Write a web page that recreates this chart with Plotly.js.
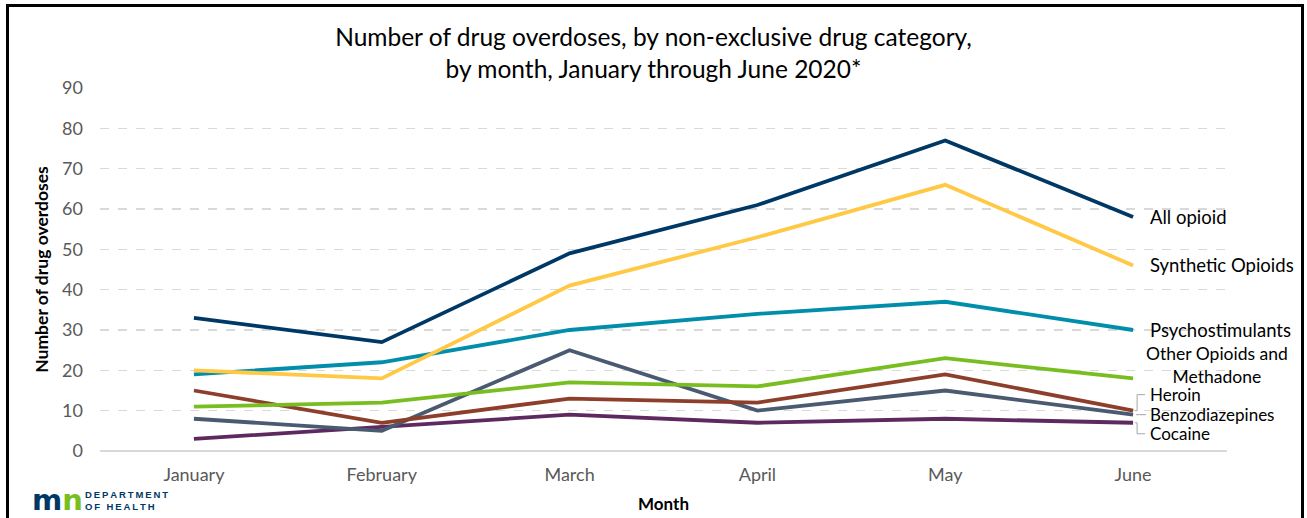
<!DOCTYPE html>
<html>
<head>
<meta charset="utf-8">
<script src="https://cdn.plot.ly/plotly-3.0.1.min.js"></script>
<style>
  html, body { margin: 0; padding: 0; background: #fff; }
  #wrap { position: relative; width: 1307px; height: 518px; overflow: hidden; }
  #chart { width: 1307px; height: 518px; }
  #frame { position: absolute; left: 6px; top: 4px; width: 1298px; height: 600px;
           border: 3px solid #000; box-sizing: border-box; pointer-events: none; }
</style>
</head>
<body>
<div id="wrap">
  <div id="chart"></div>
  <div id="frame"></div>
</div>
<script>
const months = ['January', 'February', 'March', 'April', 'May', 'June'];

const allOpioid        = [33, 27, 49, 61, 77, 58];
const syntheticOpioids = [20, 18, 41, 53, 66, 46];
const psychostimulants = [19, 22, 30, 34, 37, 30];
const otherOpioids     = [11, 12, 17, 16, 23, 18];
const heroin           = [15, 7, 13, 12, 19, 10];
const benzodiazepines  = [8, 5, 25, 10, 15, 9];
const cocaine          = [3, 6, 9, 7, 8, 7];

const seriesNames  = ['All opioid', 'Synthetic Opioids', 'Psychostimulants',
                      'Other Opioids and<br>Methadone', 'Heroin', 'Benzodiazepines', 'Cocaine'];
const seriesValues = [allOpioid, syntheticOpioids, psychostimulants, otherOpioids,
                      heroin, benzodiazepines, cocaine];
const seriesColors = ['#003865', '#FFC845', '#008EAA', '#78BE21', '#8D3F2B', '#4A5A70', '#5D295F'];

const yTicks = [0, 10, 20, 30, 40, 50, 60, 70, 80, 90];

const FONT = 'Lato, "Open Sans", sans-serif';
const last = months.length - 1;

// draw order: bottom-most first so top lines overlay
const order = [6, 5, 4, 3, 2, 1, 0];
const traces = order.map(i => ({
  type: 'scatter', mode: 'lines', x: months, y: seriesValues[i],
  name: seriesNames[i], line: { color: seriesColors[i], width: 3.8 },
  hoverinfo: 'x+y+name'
}));

// label y-shifts (pixel) for the right-hand labels
const labelShift = [0, 0, 0, 13, 16, 0, -11];
const labelSize  = [18.5, 18.5, 18.5, 17.5, 17, 17, 17];
const annotations = seriesNames.map((n, i) => ({
  x: months[last], y: seriesValues[i][last], xref: 'x', yref: 'y',
  text: n, showarrow: false, xanchor: 'left', yanchor: 'middle',
  xshift: i === 3 ? 12 : 16, yshift: labelShift[i], align: 'center',
  borderpad: 0,
  font: { family: FONT, size: labelSize[i], color: '#000' }
}));

// logo
const TS = '\u2009';
annotations.push({
  xref: 'paper', yref: 'paper', x: -0.062, y: -0.083, xanchor: 'left', yanchor: 'top',
  showarrow: false,
  text: '<b><span style="color:#003865">m</span><span style="color:#78BE21">n</span></b>',
  font: { family: '"DejaVu Sans", sans-serif', size: 29, color: '#003865' }
});
annotations.push({
  xref: 'paper', yref: 'paper', x: -0.0155, y: -0.099, xanchor: 'left', yanchor: 'top',
  showarrow: false, align: 'left',
  text: '<b>' + 'DEPARTMENT'.split('').join(TS) + '<br>' + 'OF HEALTH'.split('').join(TS) + '</b>',
  font: { family: '"Liberation Sans", sans-serif', size: 9.5, color: '#003865' }
});

const leaderStyle = { color: '#a6a6a6', width: 1 };
const shapes = [
  { type: 'path', xref: 'x', yref: 'y', xsizemode: 'pixel', ysizemode: 'pixel',
    xanchor: months[last], yanchor: heroin[last], path: 'M2,0 L4,0 L4,16 L12,16', line: leaderStyle },
  { type: 'path', xref: 'x', yref: 'y', xsizemode: 'pixel', ysizemode: 'pixel',
    xanchor: months[last], yanchor: benzodiazepines[last], path: 'M3,0 L13,0', line: leaderStyle },
  { type: 'path', xref: 'x', yref: 'y', xsizemode: 'pixel', ysizemode: 'pixel',
    xanchor: months[last], yanchor: cocaine[last], path: 'M2,0 L4,0 L4,-11 L12,-11', line: leaderStyle }
];

const layout = {
  width: 1307, height: 518,
  paper_bgcolor: '#fff', plot_bgcolor: '#fff',
  margin: { l: 100, r: 80, t: 88, b: 67 },
  showlegend: false,
  font: { family: FONT, color: '#595959' },
  title: {
    text: 'Number of drug overdoses, by non-exclusive drug category,<br>by month, January through June 2020*',
    font: { family: FONT, size: 24.5, color: '#000' },
    x: 0.5, xanchor: 'center', xref: 'container',
    y: 0.9115, yanchor: 'middle', yref: 'container'
  },
  xaxis: {
    type: 'category', categoryorder: 'array', categoryarray: months,
    range: [-0.5, 5.5],
    showgrid: false, zeroline: false, showline: false, ticks: '',
    tickfont: { family: FONT, size: 18, color: '#595959' },
    ticklabelstandoff: 11,
    title: { text: '<b>Month</b>', font: { family: FONT, size: 17, color: '#000' }, standoff: 14 }
  },
  yaxis: {
    range: [0, 90], tickvals: yTicks, ticktext: yTicks.map(String),
    showgrid: true, gridcolor: '#d9d9d9', griddash: 'dash', gridwidth: 1.3,
    zeroline: true, zerolinecolor: '#d9d9d9', zerolinewidth: 1.5,
    showline: false, ticks: '',
    tickfont: { family: FONT, size: 18, color: '#595959' },
    ticklabelstandoff: 16,
    title: { text: '<b>Number of drug overdoses</b>', font: { family: FONT, size: 17.5, color: '#000' }, standoff: 8 }
  },
  annotations: annotations,
  shapes: shapes
};

Plotly.newPlot('chart', traces, layout, { displayModeBar: false, staticPlot: true });
</script>
</body>
</html>
